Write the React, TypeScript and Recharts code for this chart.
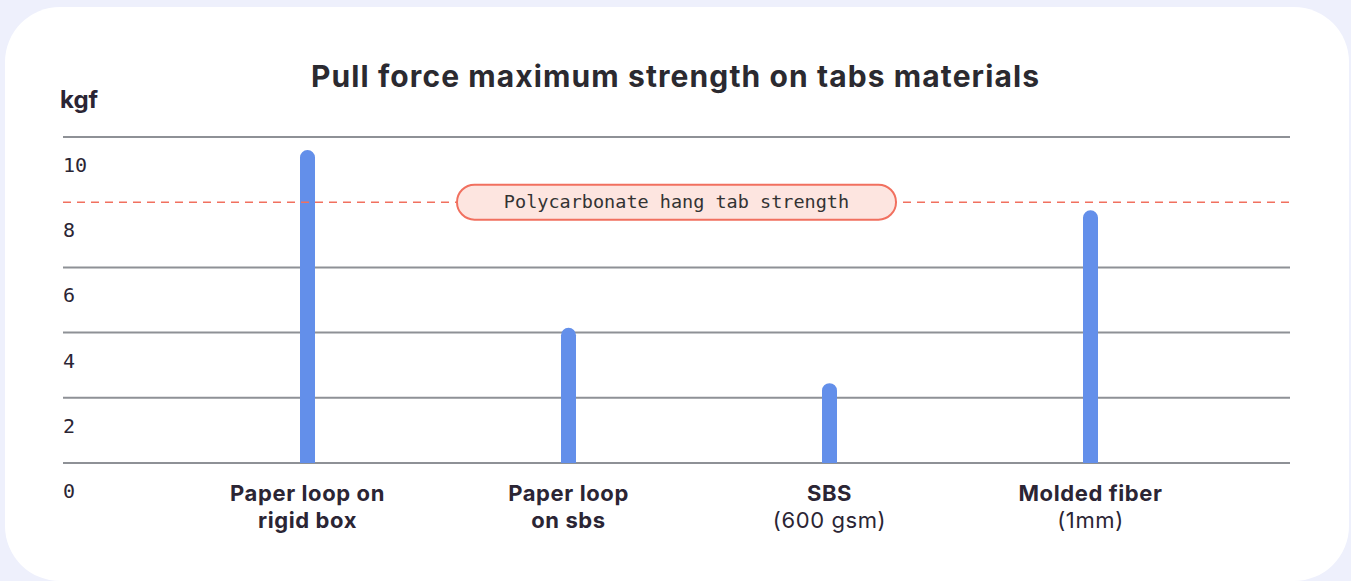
import React from 'react';
import { BarChart, Bar, XAxis, YAxis, CartesianGrid, ReferenceLine } from 'recharts';

const categories = ['Paper loop on rigid box', 'Paper loop on sbs', 'SBS (600 gsm)', 'Molded fiber (1mm)'];
const labelLine1 = ['Paper loop on', 'Paper loop', 'SBS', 'Molded fiber'];
const labelLine2 = ['rigid box', 'on sbs', '(600 gsm)', '(1mm)'];
const line2Bold = [true, true, false, false];
const strength = [9.6, 4.15, 2.45, 7.75];
const yTicks = [0, 2, 4, 6, 8, 10];
const gridValues = [0, 2, 4, 6, 10];
const polycarbonate = 8;
const polycarbonateLabel = 'Polycarbonate hang tab strength';

const data = categories.map((name, i) => ({ name, i, value: strength[i] }));

const SANS = 'Inter, "Open Sans", sans-serif';
const MONO = '"DejaVu Sans Mono", monospace';
const INK = '#2b2534';

function YTick(props: any) {
  const { y, payload } = props;
  return (
    <text x={63} y={y + 35} fontFamily={MONO} fontSize={20} fill={INK} textAnchor="start">
      {payload.value}
    </text>
  );
}

function XTick(props: any) {
  const { x, payload } = props;
  const i = payload.index;
  return (
    <g>
      <text x={x} y={501} textAnchor="middle" fontFamily={SANS} fontSize={22} letterSpacing={0.6} fontWeight={700} fill={INK}>
        {labelLine1[i]}
      </text>
      <text
        x={x}
        y={528}
        textAnchor="middle"
        fontFamily={SANS}
        fontSize={22}
        letterSpacing={0.6}
        fontWeight={line2Bold[i] ? 700 : 400}
        fill={INK}
      >
        {labelLine2[i]}
      </text>
    </g>
  );
}

function PillLabel(props: any) {
  const vb = props.viewBox || {};
  const cx = vb.x + vb.width / 2;
  const cy = vb.y;
  const w = 439;
  const h = 35;
  return (
    <g>
      <rect x={cx - w / 2} y={cy - h / 2} width={w} height={h} rx={h / 2} fill="#fde5e0" stroke="#f1705f" strokeWidth={2} />
      <text x={cx} y={cy + 6} textAnchor="middle" fontFamily={MONO} fontSize={18.5} fill="#333">
        {polycarbonateLabel}
      </text>
    </g>
  );
}

export default function App() {
  return (
    <div style={{ position: 'absolute', left: 0, top: 0, width: 1351, height: 581, background: '#eef0fc', overflow: 'hidden' }}>
      <div style={{ position: 'absolute', left: 5, top: 7, width: 1344, height: 574, background: '#fff', borderRadius: 55 }} />
      <div
        style={{
          position: 'absolute',
          left: 0,
          width: 1351,
          top: 58,
          textAlign: 'center',
          fontFamily: SANS,
          fontWeight: 700,
          fontSize: 30,
          lineHeight: '36px',
          letterSpacing: 1.1,
          color: '#2b2a30',
        }}
      >
        Pull force maximum strength on tabs materials
      </div>
      <div style={{ position: 'absolute', left: 60, top: 86, fontFamily: SANS, fontWeight: 700, fontSize: 24, lineHeight: '28px', color: INK }}>
        kgf
      </div>
      <div style={{ position: 'absolute', left: 0, top: 0 }}>
        <BarChart width={1351} height={581} data={data} margin={{ top: 137, right: 61, bottom: 117, left: 62 }}>
          <CartesianGrid horizontal vertical={false} horizontalValues={gridValues} stroke="#8e9196" strokeWidth={2} />
          <XAxis
            dataKey="name"
            height={1}
            axisLine={false}
            tickLine={false}
            interval={0}
            padding={{ left: 114, right: 69 }}
            tick={<XTick />}
          />
          <YAxis
            width={1}
            domain={[0, 10]}
            ticks={yTicks}
            axisLine={false}
            tickLine={false}
            tick={<YTick />}
          />
          <ReferenceLine
            y={polycarbonate}
            stroke="#f1705f"
            strokeWidth={1.5}
            strokeDasharray="8 6"
            label={<PillLabel />}
          />
          <Bar dataKey="value" fill="#638fea" barSize={15} radius={[7.5, 7.5, 0, 0]} isAnimationActive={false} />
        </BarChart>
      </div>
    </div>
  );
}
